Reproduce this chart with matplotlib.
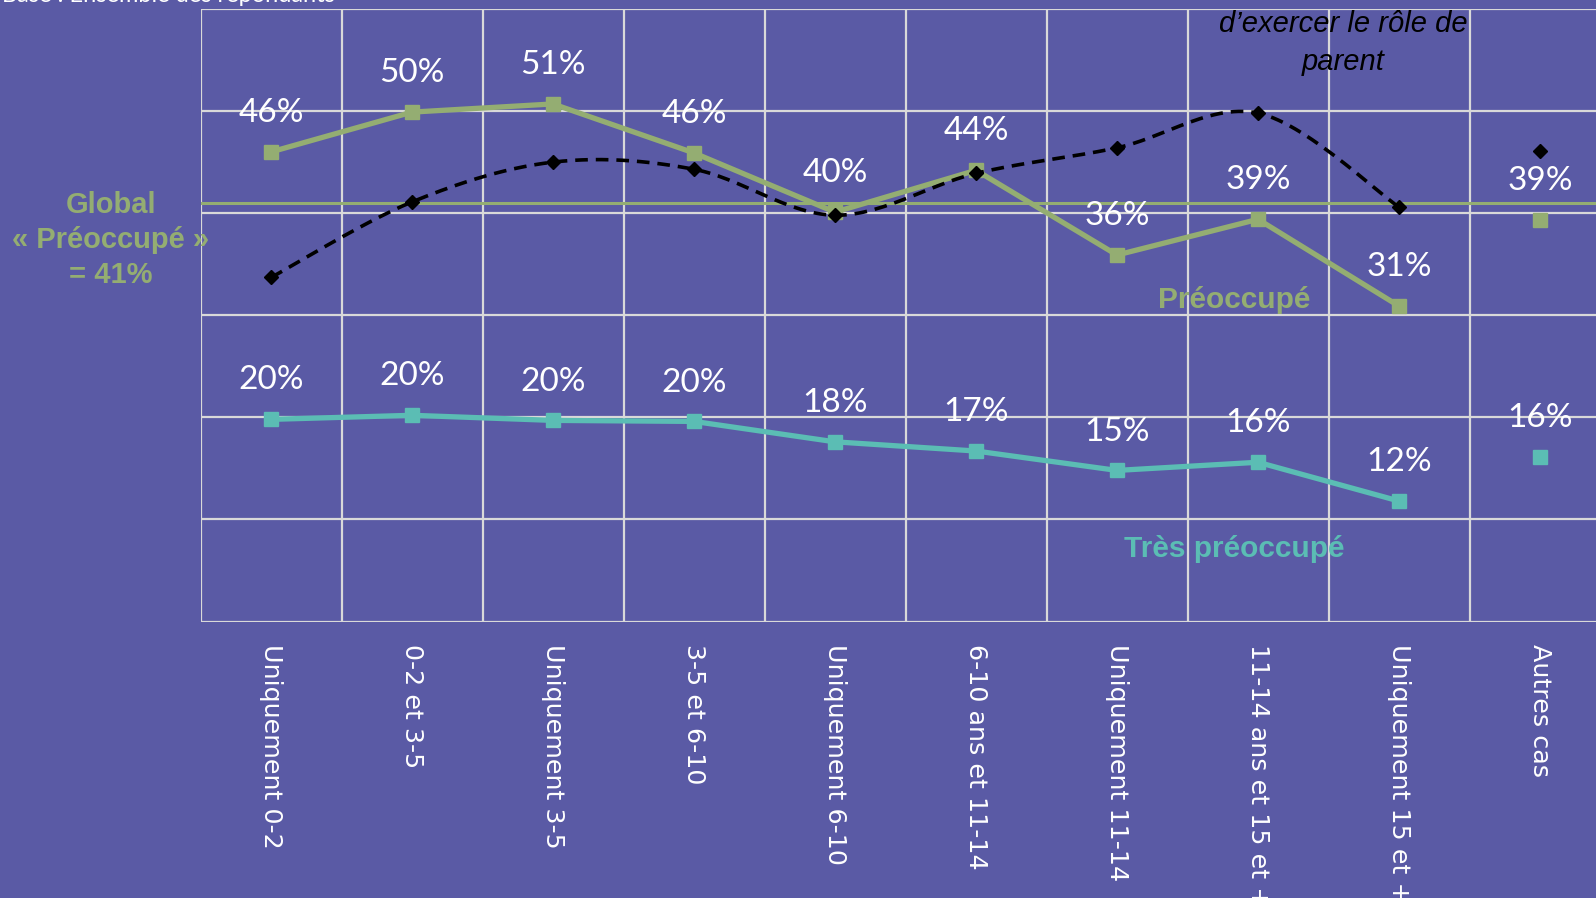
import numpy as np
import matplotlib.pyplot as plt

# categories (age groups of the children)
categories = ['Uniquement 0-2', '0-2 et 3-5', 'Uniquement 3-5', '3-5 et 6-10',
              'Uniquement 6-10', '6-10 ans et 11-14', 'Uniquement 11-14',
              '11-14 ans et 15 et +', 'Uniquement 15 et +', 'Autres cas']

# % Préoccupé (green), % Très préoccupé (teal), difficulty curve (black, no labels)
preoccupe = [46.0, 49.9, 50.7, 45.9, 40.1, 44.2, 35.9, 39.4, 30.9, 39.3]
tres_preoccupe = [19.8, 20.2, 19.7, 19.6, 17.6, 16.7, 14.8, 15.6, 11.8, 16.1]
difficulte = [33.7, 41.1, 45.0, 44.3, 39.8, 43.9, 46.4, 49.8, 40.6, 46.1]
global_preoccupe = 41

bg = '#5a5aa5'
green = '#94ad72'
teal = '#5bbdb4'
grid_col = '#d9d9d9'

fig = plt.figure(figsize=(15.96, 8.98), dpi=100, facecolor=bg)
ax = fig.add_axes([200.5 / 1596, 1 - 621.5 / 898, 1410 / 1596, 612.5 / 898])
ax.set_facecolor(bg)

x = np.arange(len(categories))
n = len(categories) - 1  # last category ("Autres cas") is not joined to the lines

# grid
ax.set_xlim(-0.5, len(categories) - 0.5)
ax.set_ylim(0, 60)
ax.set_yticks(np.arange(0, 61, 10))
ax.set_xticks(x)
for xv in np.arange(-0.5, len(categories), 1):
    ax.axvline(xv, color=grid_col, lw=1.6, zorder=1)
for yv in np.arange(0, 61, 10):
    ax.axhline(yv, color=grid_col, lw=1.6, zorder=1)
for s in ax.spines.values():
    s.set_visible(False)
ax.set_yticklabels([])
ax.set_xticklabels(categories, rotation=-90, color='white', fontsize=18.3,
                   va='top', ha='center', family='DejaVu Sans')
ax.tick_params(length=0, pad=16)

# global line
ax.axhline(global_preoccupe, color=green, lw=2.2, zorder=2)

# green and teal lines
ax.plot(x[:n], preoccupe[:n], color=green, lw=3.8, marker='s', ms=10, zorder=3)
ax.plot(x[n:], preoccupe[n:], color=green, ls='none', marker='s', ms=10, zorder=3)
ax.plot(x[:n], tres_preoccupe[:n], color=teal, lw=3.8, marker='s', ms=10, zorder=3)
ax.plot(x[n:], tres_preoccupe[n:], color=teal, ls='none', marker='s', ms=10, zorder=3)

# smoothed black dashed curve (excel-style bezier through the points)
px = x[:n].astype(float)
py = np.array(difficulte[:n])
cx, cy = [], []
t = np.linspace(0, 1, 30)
for i in range(n - 1):
    i0, i3 = max(i - 1, 0), min(i + 2, n - 1)
    p0 = np.array([px[i], py[i]])
    p3 = np.array([px[i + 1], py[i + 1]])
    c1 = p0 + (p3 - np.array([px[i0], py[i0]])) / 6
    c2 = p3 - (np.array([px[i3], py[i3]]) - p0) / 6
    seg = ((1 - t) ** 3)[:, None] * p0 + (3 * (1 - t) ** 2 * t)[:, None] * c1 \
        + (3 * (1 - t) * t ** 2)[:, None] * c2 + (t ** 3)[:, None] * p3
    cx.extend(seg[:, 0])
    cy.extend(seg[:, 1])
ax.plot(cx, cy, color='black', lw=2.6, ls=(0, (3.5, 2.2)), zorder=4)
ax.plot(x, difficulte, color='black', ls='none', marker='D', ms=7.5, zorder=4)

# data labels
for xi, v in zip(x, preoccupe):
    ax.annotate(f'{v:.0f}%', (xi, v), xytext=(0, 28), textcoords='offset points',
                ha='center', va='center', color='white', fontsize=24, family='Lato', zorder=5)
for xi, v in zip(x, tres_preoccupe):
    ax.annotate(f'{v:.0f}%', (xi, v), xytext=(0, 28), textcoords='offset points',
                ha='center', va='center', color='white', fontsize=24, family='Lato', zorder=5)

# series names
ax.text(6.83, 31.5, 'Préoccupé', color=green, fontsize=21.5, fontweight='bold',
        family='Liberation Sans', ha='center', va='center', zorder=5)
ax.text(6.83, 7.1, 'Très préoccupé', color=teal, fontsize=21.5, fontweight='bold',
        family='Liberation Sans', ha='center', va='center', zorder=5)

fig.text(111 / 1596, 1 - 240 / 898, 'Global\n« Préoccupé »\n= 41%', color=green,
         fontsize=21, fontweight='bold', family='Liberation Sans',
         ha='center', va='center', linespacing=1.34)

fig.text(1343 / 1596, 1 - 24 / 898, 'Appréhension\nd’exercer le rôle de\nparent',
         color='black', fontsize=21, style='italic', family='Liberation Sans',
         ha='center', va='center', linespacing=1.45)

fig.text(2 / 1596, 1 - 1.5 / 898, 'Base : Ensemble des répondants', color='white',
         fontsize=17, family='Lato', ha='left', va='baseline')

fig.savefig('out.png', dpi=100, facecolor=bg)
